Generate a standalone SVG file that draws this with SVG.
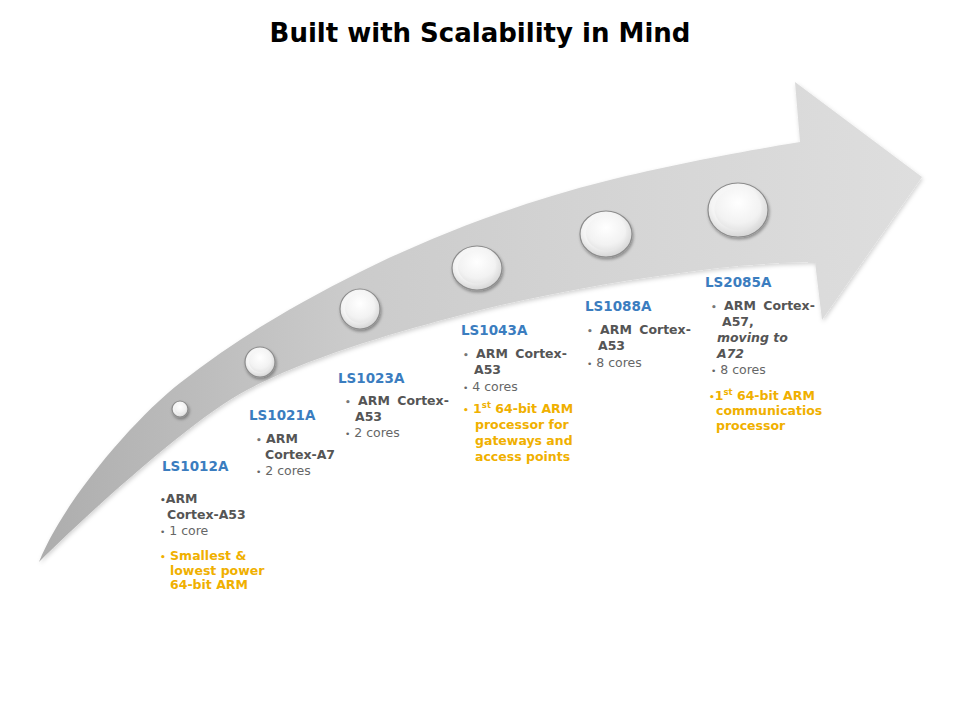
<svg xmlns="http://www.w3.org/2000/svg" width="960" height="720" viewBox="0 0 960 720">
<defs>
<linearGradient id="arrowGrad" x1="0" y1="0" x2="1" y2="0">
<stop offset="0" stop-color="#adadad"/>
<stop offset="0.35" stop-color="#cbcbcb"/>
<stop offset="0.7" stop-color="#d6d6d6"/>
<stop offset="1" stop-color="#dedede"/>
</linearGradient>
<radialGradient id="ballGrad" cx="0.45" cy="0.4" r="0.65">
<stop offset="0" stop-color="#ffffff"/>
<stop offset="0.6" stop-color="#f4f4f4"/>
<stop offset="1" stop-color="#cfcfcf"/>
</radialGradient>
<radialGradient id="ballInner" cx="0.5" cy="0.35" r="0.7">
<stop offset="0" stop-color="#ffffff"/>
<stop offset="0.7" stop-color="#f2f2f2"/>
<stop offset="1" stop-color="#e2e2e2"/>
</radialGradient>
<filter id="ballShadow" x="-30%" y="-30%" width="160%" height="170%">
<feDropShadow dx="1" dy="2" stdDeviation="1.6" flood-color="#000" flood-opacity="0.35"/>
</filter>
<filter id="arrowShadow" x="-5%" y="-5%" width="110%" height="115%">
<feDropShadow dx="1" dy="2" stdDeviation="2" flood-color="#000" flood-opacity="0.18"/>
</filter>
<style>
.title{font-family:"DejaVu Sans",Verdana,sans-serif;font-weight:bold;font-size:26px;fill:#000;}
.lbl{font-family:"DejaVu Sans",Verdana,sans-serif;font-weight:bold;font-size:13.5px;fill:#3b7dbf;}
.b{font-family:"DejaVu Sans",Verdana,sans-serif;font-weight:bold;font-size:12.5px;fill:#555555;}
.r{font-family:"DejaVu Sans",Verdana,sans-serif;font-size:12.5px;fill:#666666;}
.o{font-family:"DejaVu Sans",Verdana,sans-serif;font-weight:bold;font-size:12.5px;fill:#f0b000;}
.bi{font-style:italic;}
.ball{fill:url(#ballGrad);stroke:#8c8c8c;stroke-width:1.2;filter:url(#ballShadow);}
.inner{fill:url(#ballInner);stroke:none;}
.sup{font-size:8.5px;}
</style>
</defs>
<rect width="960" height="720" fill="#ffffff"/>
<text class="title" x="480" y="42" text-anchor="middle">Built with Scalability in Mind</text>

<g id="arrow">
<path filter="url(#arrowShadow)" fill="url(#arrowGrad)" d="M 39 562 C 64 500, 135 418, 180 383 C 240 336, 300 302, 360 272 C 440 232, 526 201, 606 181 C 670 165, 750 150, 800 142 L 795 82 L 922 177 L 822 320 L 815 262 C 790 262, 740 265, 703 270 C 623 280, 530 296, 450 318 C 390 334, 307 358, 247 390 C 197 415, 89 512, 39 562 Z"/>
</g>

<g id="connectors"></g>

<g id="ls1012a">
<ellipse class="ball" cx="180" cy="409" rx="8" ry="8"/>
<ellipse class="inner" cx="180" cy="408.5" rx="5.5" ry="5.5"/>
<text class="lbl" x="162" y="471">LS1012A</text>
<text class="b" x="160" y="503"><tspan font-size="9">•</tspan>ARM</text>
<text class="b" x="167" y="519">Cortex-A53</text>
<text class="r" x="160" y="535"><tspan font-size="9">•</tspan> 1 core</text>
<text class="o" x="160" y="560"><tspan font-size="9">•</tspan> Smallest &amp;</text>
<text class="o" x="170" y="575">lowest power</text>
<text class="o" x="170" y="589">64-bit ARM</text>
</g>

<g id="ls1021a">
<ellipse class="ball" cx="260" cy="362" rx="15" ry="15"/>
<ellipse class="inner" cx="260" cy="361" rx="11" ry="11"/>
<text class="lbl" x="249" y="420">LS1021A</text>
<text class="b" x="256" y="443"><tspan font-size="9" fill="#777">•</tspan> ARM</text>
<text class="b" x="265" y="459">Cortex-A7</text>
<text class="r" x="256" y="475"><tspan font-size="9">•</tspan> 2 cores</text>
</g>

<g id="ls1023a">
<ellipse class="ball" cx="360" cy="309" rx="20" ry="20"/>
<ellipse class="inner" cx="360" cy="308" rx="15" ry="15"/>
<text class="lbl" x="338" y="383">LS1023A</text>
<text class="b" x="345" y="405" word-spacing="3"><tspan font-size="9" fill="#777">•</tspan> ARM Cortex-</text>
<text class="b" x="355" y="421">A53</text>
<text class="r" x="345" y="437"><tspan font-size="9">•</tspan> 2 cores</text>
</g>

<g id="ls1043a">
<ellipse class="ball" cx="477" cy="268" rx="25" ry="22"/>
<ellipse class="inner" cx="477" cy="267" rx="19" ry="16.5"/>
<text class="lbl" x="461" y="335">LS1043A</text>
<text class="b" x="463" y="358" word-spacing="3"><tspan font-size="9" fill="#777">•</tspan> ARM Cortex-</text>
<text class="b" x="474" y="374">A53</text>
<text class="r" x="463" y="391"><tspan font-size="9">•</tspan> 4 cores</text>
<text class="o" x="463" y="413"><tspan font-size="9">•</tspan> 1<tspan class="sup" dy="-5">st</tspan><tspan dy="5"> 64-bit ARM</tspan></text>
<text class="o" x="475" y="429">processor for</text>
<text class="o" x="475" y="445">gateways and</text>
<text class="o" x="475" y="461">access points</text>
</g>

<g id="ls1088a">
<ellipse class="ball" cx="606" cy="234" rx="26" ry="23"/>
<ellipse class="inner" cx="606" cy="233" rx="20" ry="17.5"/>
<text class="lbl" x="585" y="311">LS1088A</text>
<text class="b" x="587" y="334" word-spacing="3"><tspan font-size="9" fill="#777">•</tspan> ARM Cortex-</text>
<text class="b" x="598" y="350">A53</text>
<text class="r" x="587" y="367"><tspan font-size="9">•</tspan> 8 cores</text>
</g>

<g id="ls2085a">
<ellipse class="ball" cx="738" cy="210" rx="30" ry="27"/>
<ellipse class="inner" cx="738" cy="209" rx="23.5" ry="21"/>
<text class="lbl" x="705" y="287">LS2085A</text>
<text class="b" x="711" y="310" word-spacing="3"><tspan font-size="9" fill="#777">•</tspan> ARM Cortex-</text>
<text class="b" x="722" y="326">A57,</text>
<text class="b bi" x="717" y="342">moving to</text>
<text class="b bi" x="717" y="358">A72</text>
<text class="r" x="711" y="374"><tspan font-size="9">•</tspan> 8 cores</text>
<text class="o" x="709" y="400"><tspan font-size="9">•</tspan>1<tspan class="sup" dy="-5">st</tspan><tspan dy="5"> 64-bit ARM</tspan></text>
<text class="o" x="716" y="415">communicatios</text>
<text class="o" x="716" y="430">processor</text>
</g>
</svg>
